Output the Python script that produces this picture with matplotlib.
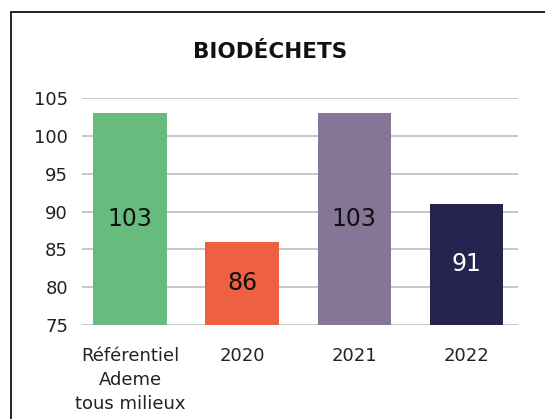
import matplotlib
matplotlib.use("Agg")
import matplotlib.pyplot as plt
from matplotlib.patches import Rectangle

categories = ["Référentiel\nAdeme\ntous milieux", "2020", "2021", "2022"]
values = [103, 86, 103, 91]
colors = ["#66BB7D", "#EE6041", "#857596", "#252350"]
label_colors = ["#111111", "#111111", "#111111", "#FFFFFF"]
yticks = [75, 80, 85, 90, 95, 100, 105]
title = "BIODÉCHETS"

W, H = 545, 419
fig = plt.figure(figsize=(W / 100, H / 100), dpi=100)
plt.rcParams['font.family'] = ['DejaVu Sans']

# frame border
fig.patches.append(Rectangle((10.5 / W, -0.1), 1.2, 1 - 12 / H + 0.1,
                             transform=fig.transFigure, fill=False,
                             edgecolor="#111111", linewidth=1.3))

ax = fig.add_axes([82 / W, 1 - 325 / H, (518 - 82) / W, (325 - 98) / H])
x = list(range(len(categories)))
ymin = 75
bars = ax.bar(x, [v - ymin for v in values], bottom=ymin, width=0.652,
              color=colors, zorder=3)
ax.set_xlim(-0.4286, 3.464)
ax.set_ylim(75, 105)
ax.set_yticks(yticks)
ax.set_yticklabels([str(t) for t in yticks])
ax.set_xticks(x)
ax.set_xticklabels(categories, linespacing=1.42)
ax.grid(axis="y", color="#BFBFBF", linewidth=1.2, zorder=0)
for s in ax.spines.values():
    s.set_visible(False)
ax.tick_params(axis="both", length=0, labelsize=13, colors="#222222")
ax.tick_params(axis="y", pad=10)
ax.tick_params(axis="x", pad=16)

for xi, v, lc in zip(x, values, label_colors):
    ax.text(xi, (ymin + v) / 2, str(v), ha="center", va="center",
            fontsize=17, color=lc, zorder=4)

fig.text(270 / W, 1 - 52 / H, title, ha="center", va="center",
         fontsize=15.5, fontweight="bold", color="#111111")

fig.savefig("out.png", dpi=100)
